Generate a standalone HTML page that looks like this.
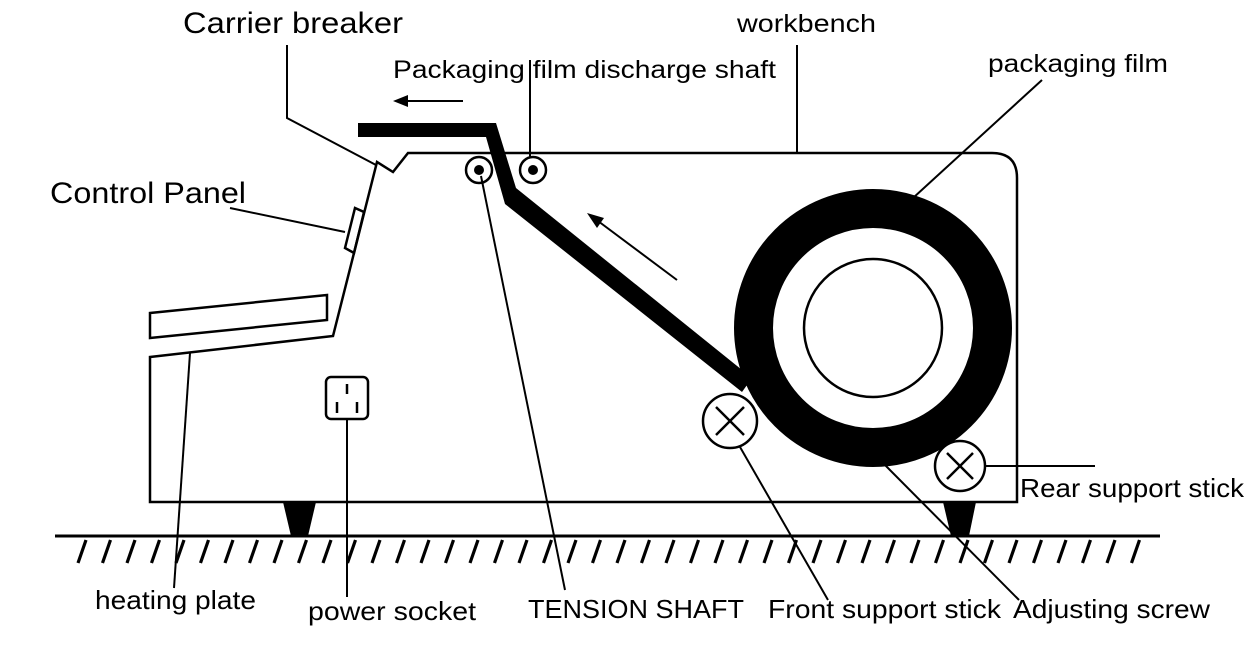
<!DOCTYPE html>
<html><head><meta charset="utf-8"><style>
html,body{margin:0;padding:0;background:#fff;width:1248px;height:654px;overflow:hidden}
text{font-family:"Liberation Sans",Arial,sans-serif;fill:#000}
</style></head><body>
<svg width="1248" height="654" viewBox="0 0 1248 654" xmlns="http://www.w3.org/2000/svg">
<g fill="none" stroke="#000" stroke-width="2.5" stroke-linejoin="miter">
<path d="M150,502 L150,357 L333,336 L377,162 L393,172 L408,153 L992,153 Q1017,153 1017,178 L1017,502 Z"/>
<path d="M150,313 L327,295 L327,320 L150,338 Z"/>
<path d="M345,248 L355,208 L364,212 L354,253 Z"/>
<rect x="326" y="377" width="42" height="42" rx="5"/>
<line x1="347" y1="384" x2="347" y2="394"/>
<line x1="337" y1="402" x2="337" y2="413"/>
<line x1="357" y1="402" x2="357" y2="413"/>
<circle cx="479" cy="170" r="13"/>
<circle cx="533" cy="170" r="13"/>
<circle cx="873" cy="328" r="119.5" stroke-width="39"/>
<circle cx="873" cy="328" r="69"/>
<circle cx="730" cy="421" r="27"/>
<line x1="716" y1="407" x2="744" y2="435"/><line x1="744" y1="407" x2="716" y2="435"/>
<circle cx="960" cy="466" r="25"/>
<line x1="947" y1="453" x2="973" y2="479"/><line x1="973" y1="453" x2="947" y2="479"/>
<line x1="55" y1="536" x2="1160" y2="536" stroke-width="3"/>
<polyline points="287,45 287,118 376,165" stroke-width="2"/>
<line x1="230" y1="208" x2="345" y2="232" stroke-width="2"/>
<line x1="797" y1="45" x2="797" y2="153" stroke-width="2"/>
<line x1="530" y1="60" x2="530" y2="157" stroke-width="2"/>
<line x1="1042" y1="80" x2="913" y2="198" stroke-width="2"/>
<line x1="190" y1="353" x2="174" y2="588" stroke-width="2"/>
<line x1="347" y1="419" x2="347" y2="597" stroke-width="2"/>
<line x1="481" y1="176" x2="565" y2="590" stroke-width="2"/>
<line x1="740" y1="447" x2="828" y2="600" stroke-width="2"/>
<line x1="885" y1="465" x2="1019" y2="600" stroke-width="2"/>
<line x1="985" y1="466" x2="1095" y2="466" stroke-width="2"/>
<line x1="463" y1="101" x2="405" y2="101" stroke-width="2"/>
<line x1="677" y1="280" x2="598" y2="221" stroke-width="2"/>
</g>
<g fill="#000">
<circle cx="479" cy="170" r="5"/>
<circle cx="533" cy="170" r="5"/>
<polygon points="393,101 408,95 408,107"/>
<polygon points="587,213 604,218 597,228"/>
<polygon points="358,123 496,123 516,188 752,378 742,392 505,204 486,137 358,137"/>
<polygon points="283,502 316,502 308,536 291,536"/>
<polygon points="943,502 976,502 969,536 951,536"/>
</g>
<g stroke="#000" stroke-width="3.2">
<line x1="78" y1="563" x2="86" y2="540"/><line x1="102.5" y1="563" x2="110.5" y2="540"/><line x1="127" y1="563" x2="135" y2="540"/><line x1="151.5" y1="563" x2="159.5" y2="540"/><line x1="176" y1="563" x2="184" y2="540"/><line x1="200.5" y1="563" x2="208.5" y2="540"/><line x1="225" y1="563" x2="233" y2="540"/><line x1="249.5" y1="563" x2="257.5" y2="540"/><line x1="274" y1="563" x2="282" y2="540"/><line x1="298.5" y1="563" x2="306.5" y2="540"/><line x1="323" y1="563" x2="331" y2="540"/><line x1="347.5" y1="563" x2="355.5" y2="540"/><line x1="372" y1="563" x2="380" y2="540"/><line x1="396.5" y1="563" x2="404.5" y2="540"/><line x1="421" y1="563" x2="429" y2="540"/><line x1="445.5" y1="563" x2="453.5" y2="540"/><line x1="470" y1="563" x2="478" y2="540"/><line x1="494.5" y1="563" x2="502.5" y2="540"/><line x1="519" y1="563" x2="527" y2="540"/><line x1="543.5" y1="563" x2="551.5" y2="540"/><line x1="568" y1="563" x2="576" y2="540"/><line x1="592.5" y1="563" x2="600.5" y2="540"/><line x1="617" y1="563" x2="625" y2="540"/><line x1="641.5" y1="563" x2="649.5" y2="540"/><line x1="666" y1="563" x2="674" y2="540"/><line x1="690.5" y1="563" x2="698.5" y2="540"/><line x1="715" y1="563" x2="723" y2="540"/><line x1="739.5" y1="563" x2="747.5" y2="540"/><line x1="764" y1="563" x2="772" y2="540"/><line x1="788.5" y1="563" x2="796.5" y2="540"/><line x1="813" y1="563" x2="821" y2="540"/><line x1="837.5" y1="563" x2="845.5" y2="540"/><line x1="862" y1="563" x2="870" y2="540"/><line x1="886.5" y1="563" x2="894.5" y2="540"/><line x1="911" y1="563" x2="919" y2="540"/><line x1="935.5" y1="563" x2="943.5" y2="540"/><line x1="960" y1="563" x2="968" y2="540"/><line x1="984.5" y1="563" x2="992.5" y2="540"/><line x1="1009" y1="563" x2="1017" y2="540"/><line x1="1033.5" y1="563" x2="1041.5" y2="540"/><line x1="1058" y1="563" x2="1066" y2="540"/><line x1="1082.5" y1="563" x2="1090.5" y2="540"/><line x1="1107" y1="563" x2="1115" y2="540"/><line x1="1131.5" y1="563" x2="1139.5" y2="540"/>
</g>
<text x="183" y="33" font-size="30" textLength="220" lengthAdjust="spacingAndGlyphs">Carrier breaker</text>
<text x="50" y="203" font-size="30" textLength="196" lengthAdjust="spacingAndGlyphs">Control Panel</text>
<text x="737" y="32" font-size="25" textLength="139" lengthAdjust="spacingAndGlyphs">workbench</text>
<text x="393" y="78" font-size="25" textLength="383" lengthAdjust="spacingAndGlyphs">Packaging film discharge shaft</text>
<text x="988" y="72" font-size="25" textLength="180" lengthAdjust="spacingAndGlyphs">packaging film</text>
<text x="1020" y="497" font-size="26" textLength="224" lengthAdjust="spacingAndGlyphs">Rear support stick</text>
<text x="95" y="609" font-size="26" textLength="161" lengthAdjust="spacingAndGlyphs">heating plate</text>
<text x="308" y="620" font-size="26" textLength="168" lengthAdjust="spacingAndGlyphs">power socket</text>
<text x="528" y="618" font-size="26" textLength="216" lengthAdjust="spacingAndGlyphs">TENSION SHAFT</text>
<text x="768" y="618" font-size="26" textLength="233" lengthAdjust="spacingAndGlyphs">Front support stick</text>
<text x="1013" y="618" font-size="26" textLength="197" lengthAdjust="spacingAndGlyphs">Adjusting screw</text>
</svg>
</body></html>
